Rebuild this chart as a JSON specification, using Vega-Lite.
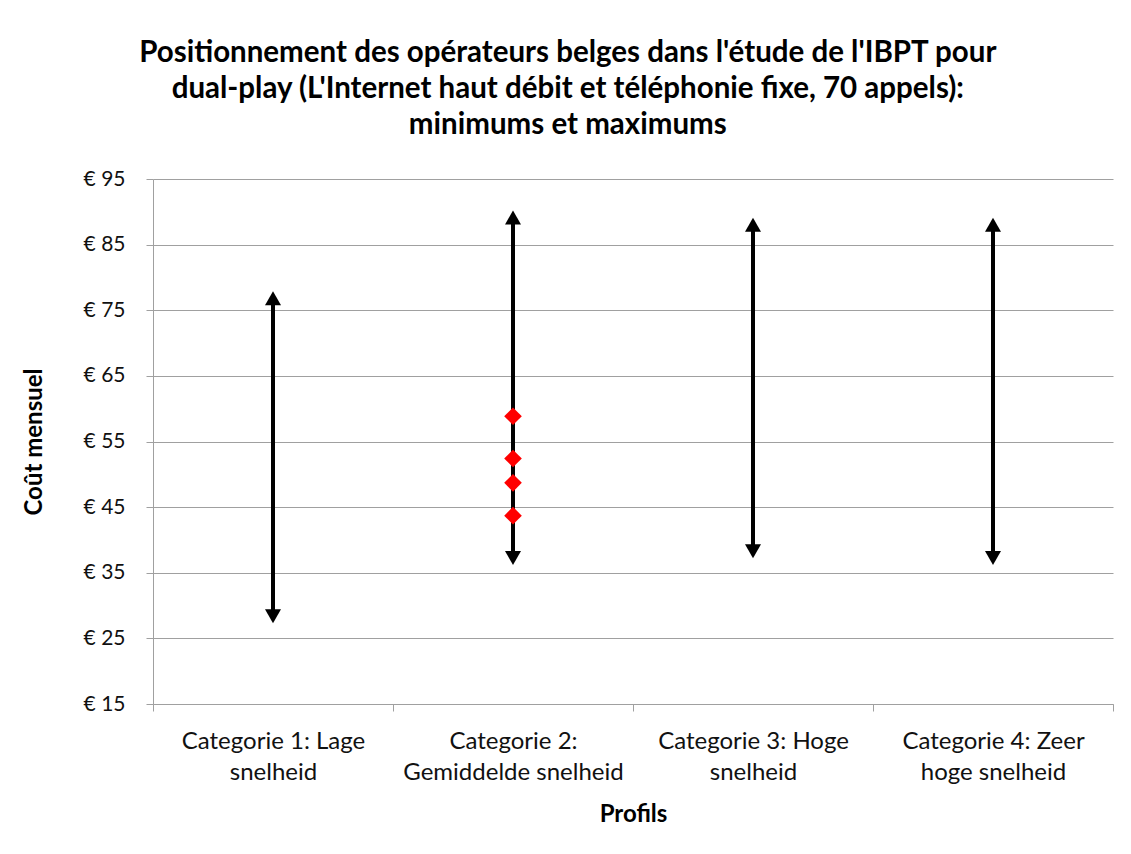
{
  "$schema": "https://vega.github.io/schema/vega-lite/v6.json",
  "width": 960,
  "height": 525,
  "autosize": {"type": "pad"},
  "padding": {"left": 22, "top": 37, "right": 18, "bottom": 10},
  "background": "white",
  "config": {"view": {"stroke": null}, "font": "Lato"},
  "title": {
    "text": [
      "Positionnement des opérateurs belges dans l'étude de l'IBPT pour",
      "dual-play (L'Internet haut débit et téléphonie fixe, 70 appels):",
      "minimums et maximums"
    ],
    "fontSize": 29.5,
    "fontWeight": "bold",
    "lineHeight": 36,
    "color": "black",
    "anchor": "middle",
    "frame": "bounds",
    "offset": 28
  },
  "datasets": {
    "ranges": [
      {"cat": "Categorie 1: Lage snelheid", "min": 27.3, "max": 77.9},
      {"cat": "Categorie 2: Gemiddelde snelheid", "min": 36.2, "max": 90.2},
      {"cat": "Categorie 3: Hoge snelheid", "min": 37.2, "max": 89.1},
      {"cat": "Categorie 4: Zeer hoge snelheid", "min": 36.2, "max": 89.1}
    ],
    "operators": [
      {"cat": "Categorie 2: Gemiddelde snelheid", "cost": 58.85},
      {"cat": "Categorie 2: Gemiddelde snelheid", "cost": 52.4},
      {"cat": "Categorie 2: Gemiddelde snelheid", "cost": 48.7},
      {"cat": "Categorie 2: Gemiddelde snelheid", "cost": 43.7}
    ]
  },
  "layer": [
    {
      "data": {"name": "ranges"},
      "mark": {"type": "rule", "color": "black", "strokeWidth": 4, "yOffset": -8, "y2Offset": 8},
      "encoding": {
        "x": {
          "field": "cat", "type": "nominal", "sort": null,
          "scale": {"paddingInner": 0, "paddingOuter": 0},
          "axis": {
            "title": "Profils",
            "titleFontSize": 24, "titleFontWeight": "bold", "titleColor": "black", "titlePadding": 18,
            "labelFontSize": 24, "labelColor": "#111", "labelAngle": 0, "labelLineHeight": 31, "labelPadding": 18, "labelLimit": 400,
            "labelExpr": "datum.label == 'Categorie 1: Lage snelheid' ? ['Categorie 1: Lage', 'snelheid'] : datum.label == 'Categorie 2: Gemiddelde snelheid' ? ['Categorie 2:', 'Gemiddelde snelheid'] : datum.label == 'Categorie 3: Hoge snelheid' ? ['Categorie 3: Hoge', 'snelheid'] : datum.label == 'Categorie 4: Zeer hoge snelheid' ? ['Categorie 4: Zeer', 'hoge snelheid'] : ''",
            "tickBand": "extent", "tickSize": 7, "tickColor": "#a0a0a0", "domainColor": "#a0a0a0", "grid": false
          }
        },
        "y": {
          "field": "min", "type": "quantitative",
          "scale": {"domain": [15, 95], "nice": false, "zero": false},
          "axis": {
            "title": "Coût mensuel",
            "titleFontSize": 24, "titleFontWeight": "bold", "titleColor": "black", "titlePadding": 37,
            "values": [15, 25, 35, 45, 55, 65, 75, 85, 95],
            "labelExpr": "'€ ' + datum.value",
            "labelFontSize": 21, "labelColor": "#111", "labelPadding": 21,
            "tickSize": 7, "tickColor": "#a0a0a0", "domainColor": "#a0a0a0",
            "grid": true, "gridColor": "#a0a0a0", "gridWidth": 1
          }
        },
        "y2": {"field": "max"}
      }
    },
    {
      "data": {"name": "ranges"},
      "mark": {"type": "point", "shape": "M0,0L1,1.75L-1,1.75Z", "filled": true, "color": "black", "opacity": 1, "size": 256},
      "encoding": {
        "x": {"field": "cat", "type": "nominal", "sort": null},
        "y": {"field": "max", "type": "quantitative"}
      }
    },
    {
      "data": {"name": "ranges"},
      "mark": {"type": "point", "shape": "M0,0L1,-1.75L-1,-1.75Z", "filled": true, "color": "black", "opacity": 1, "size": 256},
      "encoding": {
        "x": {"field": "cat", "type": "nominal", "sort": null},
        "y": {"field": "min", "type": "quantitative"}
      }
    },
    {
      "data": {"name": "operators"},
      "mark": {"type": "point", "shape": "diamond", "filled": true, "color": "#ff0000", "opacity": 1, "size": 310},
      "encoding": {
        "x": {"field": "cat", "type": "nominal", "sort": null},
        "y": {"field": "cost", "type": "quantitative"}
      }
    }
  ]
}
